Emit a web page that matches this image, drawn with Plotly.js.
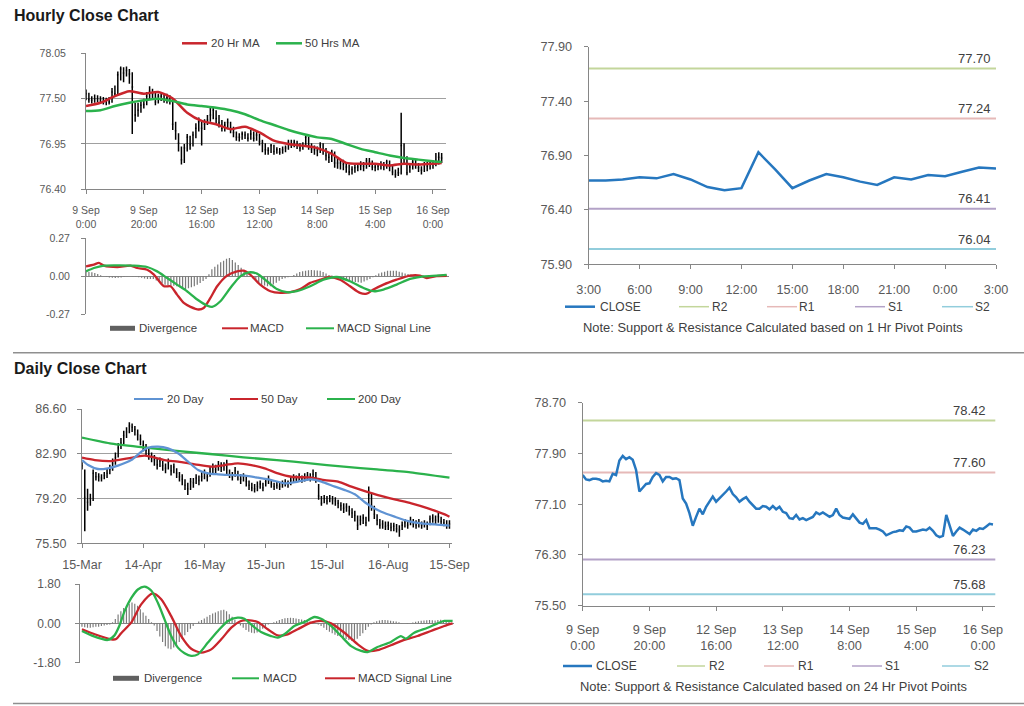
<!DOCTYPE html>
<html><head><meta charset="utf-8">
<script src="https://cdn.plot.ly/plotly-3.0.1.min.js"></script>
<style>html,body{margin:0;padding:0;background:#fff}#chart{width:1024px;height:706px}</style>
</head><body><div id="chart"></div>
<script>
// ================= DATA =================
// Hourly bars, index = trading hour counted from 9 Sep 0:00
const hourTickIdx = [0,20,40,60,80,100,120];
const hourTickText = ['9 Sep<br>0:00','9 Sep<br>20:00','12 Sep<br>16:00','13 Sep<br>12:00','14 Sep<br>8:00','15 Sep<br>4:00','16 Sep<br>0:00'];
const hClose = [77.56,77.49,77.48,77.50,77.50,77.49,77.46,77.47,77.46,77.58,
77.56,77.79,77.86,77.81,77.84,77.80,77.64,77.30,77.36,77.42,
77.43,77.53,77.59,77.56,77.46,77.53,77.53,77.50,77.51,77.48,
77.19,77.11,76.96,76.76,76.90,77.03,76.94,77.06,77.14,77.22,
77.14,77.19,77.24,77.30,77.36,77.26,77.21,77.14,77.18,77.21,
77.14,77.09,77.03,77.03,77.07,77.06,77.02,77.07,77.02,77.06,
76.98,76.96,76.88,76.87,76.93,76.86,76.88,76.85,76.88,76.90,
76.97,76.94,76.97,76.94,76.90,76.93,77.03,76.93,76.89,76.88,
76.87,76.94,76.88,76.81,76.79,76.85,76.72,76.72,76.72,76.70,
76.67,76.61,76.64,76.66,76.67,76.69,76.68,76.75,76.73,76.67,
76.67,76.68,76.70,76.69,76.73,76.68,76.61,76.58,76.60,76.93,
76.77,76.60,76.67,76.73,76.70,76.66,76.63,76.70,76.68,76.72,
76.71,76.75,76.79,76.78];
const hHigh = [77.61,77.57,77.53,77.55,77.54,77.53,77.52,77.51,77.52,77.63,
77.66,77.83,77.89,77.88,77.89,77.86,77.82,77.45,77.45,77.47,
77.50,77.58,77.65,77.62,77.58,77.56,77.58,77.55,77.56,77.54,
77.50,77.22,77.08,76.92,76.95,77.07,77.05,77.10,77.20,77.27,
77.24,77.25,77.30,77.39,77.39,77.36,77.30,77.24,77.22,77.26,
77.22,77.16,77.10,77.08,77.10,77.10,77.08,77.12,77.10,77.10,
77.07,77.00,76.96,76.91,76.95,76.94,76.91,76.90,76.92,76.93,
77.00,77.00,77.00,76.99,76.96,76.97,77.07,77.04,76.96,76.93,
76.92,76.97,76.96,76.90,76.85,76.88,76.86,76.78,76.76,76.76,
76.73,76.70,76.68,76.70,76.72,76.74,76.73,76.78,76.78,76.75,
76.72,76.72,76.74,76.73,76.76,76.75,76.70,76.64,76.66,77.33,
76.96,76.80,76.72,76.76,76.76,76.72,76.68,76.73,76.73,76.75,
76.75,76.84,76.85,76.84];
const hLow = [77.48,77.45,77.44,77.45,77.46,77.44,77.43,77.42,77.43,77.45,
77.52,77.55,77.72,77.70,77.77,77.68,77.07,77.22,77.28,77.33,
77.38,77.42,77.49,77.50,77.42,77.44,77.47,77.45,77.44,77.43,
77.12,77.00,76.86,76.70,76.72,76.86,76.88,76.92,77.02,77.10,
76.93,77.12,77.18,77.22,77.25,77.20,77.15,77.10,77.10,77.13,
77.08,77.03,76.99,76.98,77.00,77.01,76.98,77.00,76.98,76.99,
76.93,76.85,76.82,76.82,76.84,76.82,76.83,76.82,76.83,76.85,
76.88,76.90,76.91,76.89,76.86,76.88,76.92,76.88,76.84,76.82,
76.80,76.84,76.82,76.75,76.72,76.73,76.66,76.65,76.64,76.63,
76.60,76.57,76.58,76.60,76.62,76.63,76.62,76.65,76.67,76.63,
76.62,76.63,76.64,76.63,76.65,76.62,76.57,76.54,76.56,76.58,
76.70,76.57,76.60,76.64,76.65,76.61,76.58,76.61,76.62,76.64,
76.65,76.68,76.70,76.72];
const maHourX = [0,5,10,15,20,25,30,35,40,45,50,55,60,65,70,75,80,85,90,95,100,105,110,115,120,123];
const ma20Hr = [77.41,77.45,77.53,77.59,77.56,77.58,77.50,77.33,77.23,77.19,77.13,77.16,77.09,76.99,76.95,76.93,76.90,76.83,76.72,76.71,76.71,76.69,76.71,76.70,76.71,76.72];
const ma50Hr = [77.35,77.36,77.41,77.45,77.48,77.50,77.47,77.43,77.41,77.39,77.36,77.31,77.24,77.18,77.12,77.07,77.03,77.01,76.95,76.89,76.85,76.81,76.78,76.76,76.74,76.73];
const hPriceTicks = [76.40,76.95,77.50,78.05];
// Hourly MACD
const macdHX = [0,2.7,4.4,6.1,10.7,15.2,17.5,20.9,23.2,26.6,28.9,31.1,33.4,35.7,38.5,40.2,42.5,44.8,48.2,51.6,53.9,56.1,59.5,63,66.4,69.8,73.2,76.6,80,83.4,86.8,90.2,93.6,95.9,98.2,101.6,106.1,110.7,114.1,116.4,119.8,123.2];
const macdH = [0.071,0.083,0.095,0.076,0.066,0.076,0.059,0.047,0.012,-0.071,-0.071,-0.13,-0.189,-0.217,-0.236,-0.225,-0.154,-0.071,0.005,0.035,0.04,0.012,-0.059,-0.106,-0.118,-0.113,-0.09,-0.047,-0.024,-0.005,-0.024,-0.071,-0.118,-0.123,-0.094,-0.059,-0.024,0.005,0.005,-0.012,0.002,0.004];
const sigHX = [0,2.7,6.1,10.7,16.4,20.9,24.3,27.7,31.1,34.5,38,41.4,43.1,45.9,49.3,52.7,55.6,58.4,61.8,65.2,68.6,72,76.6,81.1,85.7,90.2,94.8,98.2,101.6,106.1,110.7,115.2,119.8,123.2];
const sigH = [0.035,0.059,0.076,0.078,0.076,0.066,0.035,-0.012,-0.059,-0.106,-0.165,-0.208,-0.217,-0.177,-0.083,0,0.028,0.019,-0.035,-0.09,-0.113,-0.106,-0.071,-0.024,-0.005,-0.035,-0.083,-0.106,-0.094,-0.059,-0.019,0,0.005,0.01];
const divH = [0.036,0.032,0.028,0.024,0.016,0.008,0,-0.004,-0.008,-0.01,-0.012,-0.01,-0.008,-0.005,-0.002,0,0.002,-0.002,-0.006,-0.01,
-0.015,-0.02,-0.02,-0.02,-0.03,-0.04,-0.05,-0.06,-0.063,-0.066,-0.068,-0.07,-0.077,-0.084,-0.09,-0.085,-0.078,-0.07,-0.06,-0.047,
-0.033,-0.02,0.015,0.05,0.067,0.083,0.1,0.11,0.125,0.13,0.115,0.098,0.08,0.06,0.04,0.02,0.003,-0.013,-0.03,-0.045,
-0.06,-0.065,-0.07,-0.07,-0.058,-0.045,-0.032,-0.02,-0.013,-0.007,0,0.01,0.02,0.03,0.035,0.04,0.043,0.045,0.043,0.042,
0.04,0.03,0.02,0.01,0.005,0,-0.005,-0.01,-0.018,-0.027,-0.035,-0.038,-0.041,-0.043,-0.045,-0.037,-0.028,-0.02,-0.007,0.007,
0.02,0.027,0.033,0.04,0.04,0.04,0.04,0.033,0.027,0.02,0.017,0.013,0.01,0.008,0.005,0.003,0,0.002,0.003,0.004,
0.005,0.005,0.005,0.005];
const macdHTicks = [-0.27,0,0.27];
// Last 24 hours (1 Hr pivot chart)
const lastDayTickIdx = [0,3,6,9,12,15,18,21,24];
const lastDayTickText = ['3:00','6:00','9:00','12:00','15:00','18:00','21:00','0:00','3:00'];
const lastDayClose = [76.67,76.67,76.68,76.70,76.69,76.73,76.68,76.61,76.58,76.60,76.93,76.77,76.60,76.67,76.73,76.70,76.66,76.63,76.70,76.68,76.72,76.71,76.75,76.79,76.78];
const pivotNames = ['R2','R1','S1','S2'];
const pivot1Hr = [77.70,77.24,76.41,76.04];
const pivot24Hr = [78.42,77.60,76.23,75.68];
const lastDayTicks = [75.90,76.40,76.90,77.40,77.90];
const weekTicks = [75.50,76.30,77.10,77.90,78.70];
// Daily bars, index = trading day counted from 15-Mar
const dayTickIdx = [0,22,44,66,88,110,132];
const dayTickText = ['15-Mar','14-Apr','16-May','15-Jun','15-Jul','16-Aug','15-Sep'];
const dClose = [81.9,79.3,78.9,79.2,81.3,81.0,81.0,80.9,81.1,81.3,
81.6,82.1,82.6,83.4,83.8,84.4,84.7,85.2,85.1,84.9,
84.5,84.1,83.6,83.2,82.9,82.6,82.4,82.0,82.3,81.9,
81.7,82.2,81.5,81.8,81.3,81.0,80.8,80.3,80.0,80.6,
80.5,80.9,80.7,81.0,81.3,81.0,81.4,81.8,81.6,82.0,
81.8,81.9,82.1,81.2,81.0,81.5,81.1,80.8,81.0,80.6,
80.3,80.1,80.0,80.2,80.4,80.1,80.6,80.8,80.4,80.2,
80.3,80.2,80.4,80.5,80.4,80.7,80.9,80.8,81.0,80.8,
80.9,81.1,80.9,81.2,80.9,79.4,78.8,79.2,79.0,79.2,
79.1,79.0,78.8,78.6,78.4,78.5,78.2,78.0,77.8,77.0,
77.4,77.6,77.2,79.5,78.6,77.9,77.4,77.0,77.1,76.9,
77.0,76.8,76.9,76.7,76.6,77.0,77.2,77.0,77.4,77.1,
77.0,77.2,77.0,77.1,76.9,77.5,77.6,77.4,77.7,77.3,
77.2,77.0,77.1];
const dHigh = [82.2,81.6,80.0,79.6,81.6,81.4,81.3,81.2,81.4,81.7,
82.0,82.5,83.0,83.8,84.2,84.8,85.1,85.5,85.4,85.2,
84.9,84.5,84.0,83.7,83.3,83.0,82.8,82.5,82.6,82.3,
82.1,82.5,82.0,82.1,81.7,81.4,81.2,80.8,80.5,80.9,
80.9,81.2,81.1,81.4,81.6,81.4,81.8,82.1,82.0,82.3,
82.2,82.2,82.4,81.6,81.4,81.8,81.5,81.2,81.3,81.0,
80.7,80.5,80.4,80.6,80.7,80.5,80.9,81.1,80.8,80.5,
80.6,80.5,80.7,80.8,80.7,81.0,81.2,81.1,81.3,81.1,
81.3,81.4,81.3,81.6,81.4,80.4,79.4,79.5,79.4,79.5,
79.4,79.3,79.1,78.9,78.8,78.8,78.6,78.4,78.2,77.8,
77.8,77.9,77.7,80.2,79.6,78.6,77.9,77.5,77.4,77.3,
77.3,77.2,77.2,77.1,77.0,77.3,77.5,77.4,77.7,77.5,
77.4,77.5,77.3,77.4,77.3,77.8,77.9,77.8,78.0,77.7,
77.5,77.4,77.4];
const dLow = [81.6,76.5,78.2,78.6,79.0,80.7,80.6,80.6,80.8,80.9,
81.2,81.5,82.0,82.6,83.3,83.7,84.2,84.6,84.7,84.4,
84.0,83.6,83.1,82.8,82.4,82.2,81.9,81.6,81.8,81.5,
81.3,81.6,81.1,81.3,80.9,80.6,80.3,79.9,79.5,79.9,
80.1,80.4,80.3,80.6,80.8,80.6,81.0,81.3,81.2,81.5,
81.4,81.5,81.1,80.9,80.7,81.0,80.7,80.4,80.6,80.2,
79.9,79.8,79.7,79.8,80.0,79.8,80.2,80.4,80.1,79.9,
80.0,79.9,80.1,80.2,80.1,80.3,80.5,80.5,80.6,80.5,
80.6,80.7,80.6,80.8,80.5,79.1,78.6,78.8,78.7,78.9,
78.7,78.6,78.4,78.2,78.0,78.1,77.8,77.6,77.3,76.6,
77.0,77.1,76.9,77.3,78.2,77.5,77.0,76.7,76.7,76.6,
76.6,76.5,76.5,76.4,76.05,76.6,76.8,76.7,77.0,76.8,
76.7,76.8,76.7,76.8,76.6,77.0,77.2,77.1,77.2,77.0,
76.9,76.7,76.7];
const ma20DayX = [0,2.2,5.7,9.3,12.9,17.7,21.3,23.7,27.3,30.9,34.5,38.1,41.7,45.3,48.9,53.7,58.4,63.2,68,72.8,77.6,82.4,86,90.8,94.4,98,101.6,104,107.5,112.3,117.1,121.9,126.7,132];
const ma20Day = [82.38,81.97,81.64,81.70,81.92,82.38,83.07,83.40,83.49,83.35,82.94,82.25,81.56,81.28,81.20,81.14,81.09,80.92,80.73,80.46,80.60,80.79,80.60,80.18,79.90,79.55,78.89,78.53,78.11,77.70,77.34,77.15,77.07,76.96];
const ma50DayX = [0,4.6,10.5,16.5,22.5,29.7,34.5,40.5,46.5,51.3,56,60.8,65.6,70.4,75.2,82.4,87.2,92,96.8,101.6,106.3,112.3,118.3,124.3,130.3,132];
const ma50Day = [82.58,82.38,82.30,82.52,82.74,82.38,82.25,82.03,81.83,81.97,82.11,81.97,81.70,81.28,81.00,80.93,80.73,80.60,80.18,79.82,79.49,79.13,78.80,78.39,77.89,77.70];
const ma200DayX = [0,10,22,34,46,58,70,82,94,106,118,132];
const ma200Day = [84.23,83.76,83.43,83.13,82.88,82.60,82.38,82.11,81.83,81.61,81.37,80.92];
const dPriceTicks = [75.50,79.20,82.90,86.60];
// Daily MACD
const macdDX = [0,3.4,9.3,11.7,13.5,15.3,17.7,20.1,22.5,24.9,27.3,29.7,32.1,34.5,36.9,39.3,41.7,45.3,48.9,52.5,56,58.4,60.8,64.4,68,70.4,72.8,76.4,80,83.6,86,89.6,93.2,96.8,100.4,102.8,106.3,111.1,114.7,116.5,119.5,124.3,127.9,130.3,133.3];
const macdD = [-0.35,-0.55,-0.76,-0.55,-0.1,0.55,1.15,1.55,1.68,1.5,0.94,0.18,-0.58,-1.11,-1.37,-1.49,-1.42,-0.88,-0.35,0.11,0.26,0.21,-0.05,-0.40,-0.58,-0.65,-0.50,-0.12,0.06,0.29,0.21,-0.12,-0.58,-1.04,-1.26,-1.31,-1.08,-0.85,-0.58,-0.70,-0.43,-0.20,0,0.11,0.11];
const sigDX = [0,4.6,10.5,12.3,14.1,17.7,21.3,25.5,28.5,32.1,35.7,39.3,42.9,46.5,50.1,53.7,57.2,59.6,63.2,66.8,70.4,74,77.6,82.4,86,89.6,94.4,99.2,102.8,106.3,111.1,115.9,120.7,125.5,130.3,133.3];
const sigD = [-0.27,-0.50,-0.73,-0.72,-0.45,0.03,0.87,1.37,1.10,0.33,-0.58,-1.16,-1.34,-1.19,-0.73,-0.20,0.11,0.15,0.06,-0.27,-0.55,-0.50,-0.27,0.03,0.11,0,-0.43,-0.96,-1.26,-1.23,-1.0,-0.76,-0.58,-0.35,-0.12,0];
const divD = [-0.15,-0.18,-0.2,-0.2,-0.18,-0.15,-0.15,-0.12,-0.1,-0.08,-0.05,0.05,0.2,0.4,0.55,0.7,0.8,0.9,0.95,0.9,
0.8,0.65,0.5,0.35,0.2,0.05,-0.1,-0.35,-0.6,-0.85,-1.05,-1.15,-1.18,-1.1,-1.0,-0.85,-0.7,-0.55,-0.4,-0.25,
-0.12,0,0.08,0.15,0.22,0.3,0.38,0.45,0.5,0.55,0.6,0.62,0.55,0.42,0.3,0.15,0.02,-0.1,-0.2,-0.3,
-0.38,-0.43,-0.45,-0.42,-0.35,-0.25,-0.15,-0.05,0,0.05,0.1,0.15,0.2,0.23,0.25,0.26,0.25,0.22,0.2,0.18,
0.15,0.12,0.08,0.04,0,-0.05,-0.12,-0.2,-0.3,-0.38,-0.45,-0.52,-0.58,-0.63,-0.68,-0.72,-0.76,-0.8,-0.78,-0.7,
-0.58,-0.45,-0.3,-0.15,-0.05,0.05,0.1,0.13,0.15,0.15,0.14,0.12,0.1,0.08,0.05,0.02,0,-0.02,0,0.04,
0.07,0.1,0.12,0.13,0.14,0.15,0.14,0.13,0.15,0.16,0.15,0.14,0.12];
const macdDTicks = [-1.80,0,1.80];
// Series names
const hMaNames = ['20 Hr MA','50 Hrs MA'];
const macdNames = ['Divergence','MACD','MACD Signal Line'];
const dMaNames = ['20 Day','50 Day','200 Day'];
const closeName = 'CLOSE';

// ================= STYLE / LAYOUT =================
const W=1024,H=706,F='Liberation Sans, Arial, sans-serif';
const px=p=>p/W, py=p=>1-p/H;
const seq=n=>Array.from({length:n},(_,i)=>i);
const RED='#c9252c',GREEN='#2bb24c',BLUE20='#5f93d3',CBLUE='#2677bf',GRAY='#7a7a7a';
const pivotColors=['#c3d69b','#e6b9b8','#b3a2c7','#92cddc'];
const AX='#868686',GRID='#a0a0a0',TXT='#595959';
function ax(o){return Object.assign({showgrid:false,zeroline:false,showline:true,linecolor:AX,linewidth:1,ticks:'outside',ticklen:4,tickcolor:AX,tickwidth:1,tickmode:'array',automargin:false,fixedrange:true,tickfont:{family:F,size:11,color:TXT}},o);}
const fmt=a=>a.map(v=>v.toFixed(2));
const hidden=(d,r,a)=>({domain:d,range:r,anchor:a,showline:false,showticklabels:false,ticks:'',showgrid:false,zeroline:false,fixedrange:true});

const traces=[];
const ohlcStyle={increasing:{line:{color:'#000',width:1.5}},decreasing:{line:{color:'#000',width:1.5}},tickwidth:0.3,showlegend:false,hoverinfo:'skip'};
traces.push(Object.assign({type:'ohlc',x:seq(hClose.length),open:hClose,high:hHigh,low:hLow,close:hClose,xaxis:'x',yaxis:'y'},ohlcStyle));
traces.push({type:'scatter',mode:'lines',x:maHourX,y:ma20Hr,name:hMaNames[0],line:{color:RED,width:2.5,shape:'spline',smoothing:0.7},xaxis:'x',yaxis:'y'});
traces.push({type:'scatter',mode:'lines',x:maHourX,y:ma50Hr,name:hMaNames[1],line:{color:GREEN,width:2.5,shape:'spline',smoothing:0.7},xaxis:'x',yaxis:'y'});
traces.push({type:'bar',x:seq(divH.length),y:divH,width:0.42,marker:{color:GRAY,line:{width:0}},xaxis:'x2',yaxis:'y2',name:macdNames[0]});
traces.push({type:'scatter',mode:'lines',x:macdHX,y:macdH,name:macdNames[1],line:{color:RED,width:2.3,shape:'spline',smoothing:0.7},xaxis:'x2',yaxis:'y2'});
traces.push({type:'scatter',mode:'lines',x:sigHX,y:sigH,name:macdNames[2],line:{color:GREEN,width:2.3,shape:'spline',smoothing:0.7},xaxis:'x2',yaxis:'y2'});
traces.push({type:'scatter',mode:'lines',x:seq(lastDayClose.length),y:lastDayClose,name:closeName,line:{color:CBLUE,width:2.5},xaxis:'x3',yaxis:'y3'});
traces.push(Object.assign({type:'ohlc',x:seq(dClose.length),open:dClose,high:dHigh,low:dLow,close:dClose,xaxis:'x4',yaxis:'y4'},ohlcStyle));
traces.push({type:'scatter',mode:'lines',x:ma200DayX,y:ma200Day,name:dMaNames[2],line:{color:GREEN,width:2.3,shape:'spline',smoothing:0.6},xaxis:'x4',yaxis:'y4'});
traces.push({type:'scatter',mode:'lines',x:ma50DayX,y:ma50Day,name:dMaNames[1],line:{color:RED,width:2.3,shape:'spline',smoothing:0.7},xaxis:'x4',yaxis:'y4'});
traces.push({type:'scatter',mode:'lines',x:ma20DayX,y:ma20Day,name:dMaNames[0],line:{color:BLUE20,width:2.3,shape:'spline',smoothing:0.7},xaxis:'x4',yaxis:'y4'});
traces.push({type:'bar',x:seq(divD.length),y:divD,width:0.42,marker:{color:GRAY,line:{width:0}},xaxis:'x5',yaxis:'y5',name:macdNames[0]});
traces.push({type:'scatter',mode:'lines',x:sigDX,y:sigD,name:macdNames[2],line:{color:RED,width:2.3,shape:'spline',smoothing:0.7},xaxis:'x5',yaxis:'y5'});
traces.push({type:'scatter',mode:'lines',x:macdDX,y:macdD,name:macdNames[1],line:{color:GREEN,width:2.3,shape:'spline',smoothing:0.7},xaxis:'x5',yaxis:'y5'});
traces.push({type:'scatter',mode:'lines',x:seq(hClose.length),y:hClose,name:closeName,line:{color:CBLUE,width:2.5},xaxis:'x6',yaxis:'y6'});

const shapes=[],annotations=[];
// titles & separators
annotations.push({xref:'paper',yref:'paper',x:px(12),y:py(16),xanchor:'left',yanchor:'middle',showarrow:false,text:'<b>Hourly Close Chart</b>',font:{family:F,size:16,color:'#1a1a1a'}});
annotations.push({xref:'paper',yref:'paper',x:px(12),y:py(369),xanchor:'left',yanchor:'middle',showarrow:false,text:'<b>Daily Close Chart</b>',font:{family:F,size:16,color:'#1a1a1a'}});
[352.7,703.5].forEach(y=>shapes.push({type:'line',xref:'paper',yref:'paper',x0:px(13),x1:1,y0:py(y),y1:py(y),line:{color:'#8f8f8f',width:1.5}}));
// pivot lines and labels
function pivots(vals,xa,ya,labelX,shift){
  vals.forEach((v,k)=>{
    shapes.push({type:'line',xref:xa+' domain',yref:ya,x0:0,x1:1,y0:v,y1:v,layer:'below',line:{color:pivotColors[k],width:2}});
    annotations.push({xref:'paper',yref:ya,x:px(labelX),y:v,yshift:shift,xanchor:'right',yanchor:'middle',showarrow:false,text:v.toFixed(2),font:{family:F,size:13,color:'#404040'}});
  });
}
pivots(pivot1Hr,'x3','y3',993,10);
pivots(pivot24Hr,'x6','y6',988,10);
// manual legends
function legLine(x0,x1,y,color,w){shapes.push({type:'line',xref:'paper',yref:'paper',x0:px(x0),x1:px(x1),y0:py(y),y1:py(y),line:{color,width:w}});}
function legBar(x0,x1,y,color){shapes.push({type:'rect',xref:'paper',yref:'paper',x0:px(x0),x1:px(x1),y0:py(y+2.5),y1:py(y-2.5),line:{width:0},fillcolor:color});}
function legText(x,y,t,s){annotations.push({xref:'paper',yref:'paper',x:px(x),y:py(y),xanchor:'left',yanchor:'middle',showarrow:false,text:t,font:{family:F,size:s,color:'#404040'}});}
// hourly price legend
legLine(182,207,43.3,RED,2.5); legText(209,43.3,hMaNames[0],11.5);
legLine(276,302,43.3,GREEN,2.5); legText(303,43.3,hMaNames[1],11.5);
// hourly macd legend
legBar(110,135,328.3,'#606060'); legText(137,328.3,macdNames[0],11.5);
legLine(222,248,328.3,RED,2); legText(248,328.3,macdNames[1],11.5);
legLine(306,334,328.3,GREEN,2); legText(335,328.3,macdNames[2],11.5);
// daily price legend
legLine(134,163,399,BLUE20,2); legText(165,399,dMaNames[0],11.5);
legLine(230,258,399,RED,2); legText(259,399,dMaNames[1],11.5);
legLine(327,355,399,GREEN,2); legText(356,399,dMaNames[2],11.5);
// daily macd legend
legBar(113,139,678.3,'#606060'); legText(142,678.3,macdNames[0],11.5);
legLine(232,259,678.3,GREEN,2); legText(261,678.3,macdNames[1],11.5);
legLine(325,355,678.3,RED,2); legText(356,678.3,macdNames[2],11.5);
// pivot legends
function pivLegend(y,xs,noteY,note){
  legLine(xs[0][0],xs[0][1],y,CBLUE,2.5); legText(xs[0][2],y,closeName,12);
  pivotNames.forEach((n,k)=>{legLine(xs[k+1][0],xs[k+1][1],y,pivotColors[k],1.5); legText(xs[k+1][2],y,n,12);});
  annotations.push({xref:'paper',yref:'paper',x:px(773),y:py(noteY),xanchor:'center',yanchor:'middle',showarrow:false,text:note,font:{family:F,size:12.9,color:'#404040'}});
}
pivLegend(306.7,[[565,595,598],[679,709,710],[767,797,797],[855,885,886],[942,973,973]],327.7,'Note: Support &amp; Resistance Calculated based on 1 Hr Pivot Points');
pivLegend(666,[[563,592,594],[677,705,707],[764,794,796],[852,882,883],[942,970,972]],686.7,'Note: Support &amp; Resistance Calculated based on 24 Hr Pivot Points');

const layout={
  width:W,height:H,margin:{l:0,r:0,t:0,b:0},paper_bgcolor:'#fff',plot_bgcolor:'rgba(0,0,0,0)',showlegend:false,
  font:{family:F,color:TXT},barmode:'overlay',
  xaxis:ax({domain:[px(86),px(446)],range:[0,124.5],anchor:'y',tickvals:hourTickIdx,ticktext:hourTickText,tickfont:{family:F,size:10.5,color:TXT},ticklabelstandoff:7,rangeslider:{visible:false}}),
  yaxis:ax({domain:[py(189.3),py(53.3)],range:[76.40,78.05],anchor:'x',tickvals:hPriceTicks,ticktext:fmt(hPriceTicks),showgrid:true,gridcolor:GRID,gridwidth:1,tickfont:{family:F,size:10.5,color:TXT},ticklabelstandoff:13}),
  xaxis2:hidden([px(86),px(449)],[0,124],'y2'),
  yaxis2:ax({domain:[py(314.3),py(238.3)],range:[-0.27,0.27],anchor:'x2',tickvals:macdHTicks,ticktext:fmt(macdHTicks),showgrid:true,gridcolor:GRID,zeroline:true,zerolinecolor:AX,zerolinewidth:1,tickfont:{family:F,size:10.5,color:TXT},ticklabelstandoff:9}),
  xaxis3:ax({domain:[px(588.7),px(996)],range:[0,24],anchor:'y3',tickvals:lastDayTickIdx,ticktext:lastDayTickText,tickfont:{family:F,size:12.7,color:TXT},ticklabelstandoff:9}),
  yaxis3:ax({domain:[py(264.3),py(46.7)],range:[75.90,77.90],anchor:'x3',tickvals:lastDayTicks,ticktext:fmt(lastDayTicks),tickfont:{family:F,size:12.7,color:TXT},ticklabelstandoff:9}),
  xaxis4:ax({domain:[px(82),px(451.7)],range:[0,132.8],anchor:'y4',tickvals:dayTickIdx,ticktext:dayTickText,tickfont:{family:F,size:12.5,color:TXT},ticklabelstandoff:6,rangeslider:{visible:false}}),
  yaxis4:ax({domain:[py(543.3),py(409)],range:[75.50,86.60],anchor:'x4',tickvals:dPriceTicks,ticktext:fmt(dPriceTicks),showgrid:true,gridcolor:GRID,tickfont:{family:F,size:12.5,color:TXT},ticklabelstandoff:8}),
  xaxis5:hidden([px(80),px(454)],[-0.7,133.8],'y5'),
  yaxis5:ax({domain:[py(662.7),py(584)],range:[-1.8,1.8],anchor:'x5',tickvals:macdDTicks,ticktext:fmt(macdDTicks),showgrid:true,gridcolor:GRID,zeroline:true,zerolinecolor:AX,zerolinewidth:1,tickfont:{family:F,size:12,color:TXT},ticklabelstandoff:12}),
  xaxis6:ax({domain:[px(582.7),px(995.3)],range:[0,123.7],anchor:'y6',tickvals:hourTickIdx,ticktext:hourTickText,tickfont:{family:F,size:12.7,color:TXT},ticklabelstandoff:8}),
  yaxis6:ax({domain:[py(605.7),py(402.7)],range:[75.50,78.70],anchor:'x6',tickvals:weekTicks,ticktext:fmt(weekTicks),tickfont:{family:F,size:12.7,color:TXT},ticklabelstandoff:9}),
  shapes,annotations
};
Plotly.newPlot('chart',traces,layout,{staticPlot:true,displayModeBar:false});
</script></body></html>
